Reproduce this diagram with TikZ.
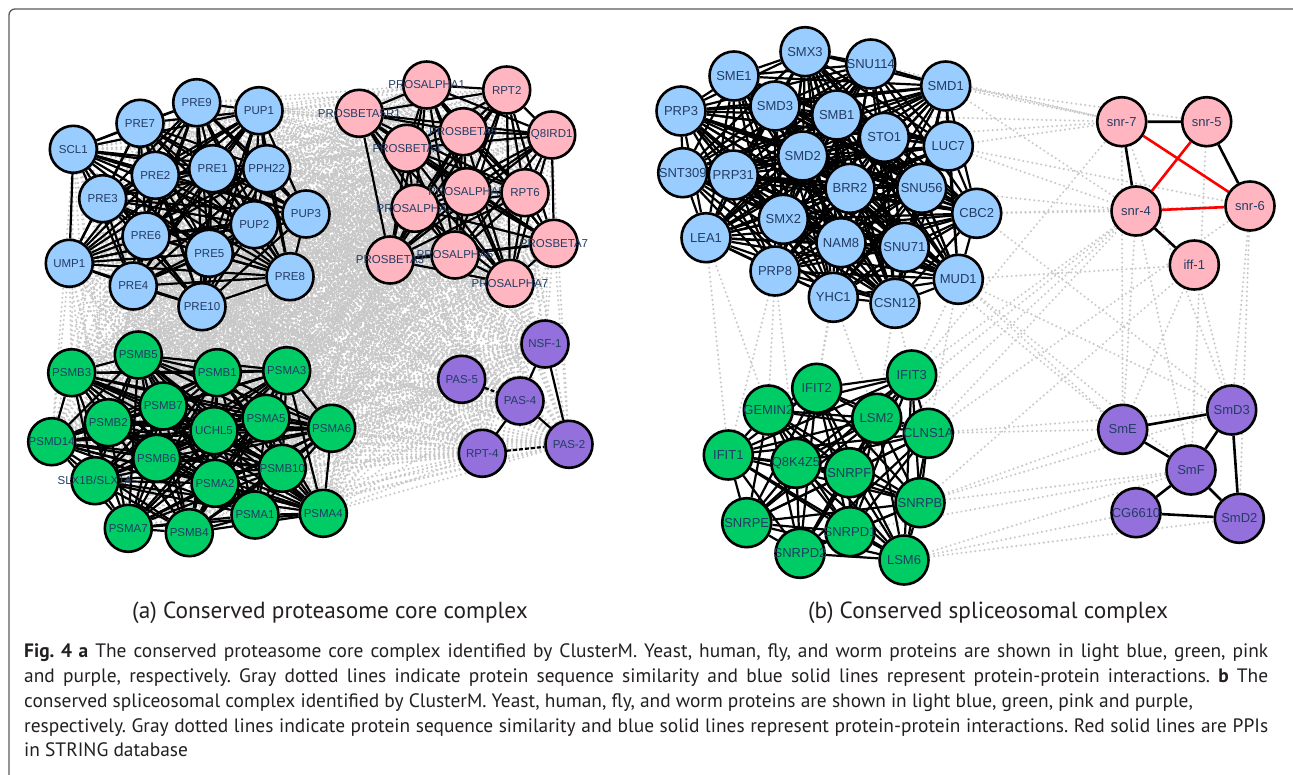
\documentclass[tikz,border=0pt]{standalone}
\usepackage{fontspec}
\setmainfont{Liberation Sans}
\newfontfamily\capfont{PT Sans}
\pgfdeclarelayer{bg}\pgfdeclarelayer{mid}\pgfsetlayers{bg,mid,main}
\definecolor{nblue}{RGB}{153,204,255}
\definecolor{npink}{RGB}{255,182,193}
\definecolor{ngreen}{RGB}{0,204,102}
\definecolor{npurple}{RGB}{147,112,219}
\definecolor{lbl}{RGB}{35,60,100}
\definecolor{simgray}{RGB}{200,200,200}
\definecolor{captxt}{RGB}{35,31,32}
\definecolor{framec}{RGB}{90,90,90}
\tikzset{
  pnL/.style={circle,draw=black,line width=2.6pt,minimum size=47pt,inner sep=0pt},
  pnR/.style={circle,draw=black,line width=2.6pt,minimum size=49pt,inner sep=0pt},
  lbL/.style={text=lbl,font=\fontsize{11.5}{12}\selectfont,inner sep=0pt},
  lbR/.style={text=lbl,font=\fontsize{13}{14}\selectfont,inner sep=0pt},
  bn/.style={fill=nblue}, pk/.style={fill=npink}, gn/.style={fill=ngreen}, pp/.style={fill=npurple},
  ppi/.style={draw=black,line width=2.2pt},
  strppi/.style={draw=red,line width=2.6pt},
  sim/.style={draw=simgray,line width=2.3pt,line cap=round,dash pattern=on 0pt off 4.6pt},
  captline/.style={text=captxt,font=\capfont\fontsize{19.4}{22}\selectfont\frenchspacing,anchor=base west,inner sep=0pt},
  ttl/.style={text=captxt,font=\capfont\fontsize{23.3}{26}\selectfont,anchor=base,inner sep=0pt}
}
\newcommand\pl[4]{\node[pnL,#1,label={[lbL]center:#4}] (#2) at (#3) {};}
\newcommand\pr[4]{\node[pnR,#1,label={[lbR]center:#4}] (#2) at (#3) {};}
\newcommand\mkclique[1]{\foreach \a [count=\i] in #1 {\foreach \b [count=\j] in #1 {\ifnum\j>\i\relax \draw[ppi] (\a)--(\b);\fi}}}
\newcommand\mkbip[2]{\foreach \a in #1 {\foreach \b in #2 {\draw[sim] (\a)--(\b);}}}
\def\Lblue{PRE9,PUP1,PRE7,SCL1,PRE2,PRE1,PPH22,PRE3,PUP3,PUP2,PRE6,PRE5,UMP1,PRE8,PRE4,PRE10}
\def\Lpink{PBfiveRone,PAone,RPTtwo,PBfour,PBfive,QIRD,PAtwo,PAfive,RPTsix,PBseven,PBthree,PAsix,PAseven}
\def\Lgreen{PSMB5,PSMB3,PSMB1,PSMA3,PSMB7,PSMB2,UCHL5,PSMA5,PSMA6,PSMD14,PSMB6,PSMB10,SLX,PSMA2,PSMA1,PSMA4,PSMA7,PSMB4}
\def\Lpurp{NSF,PASfive,PASfour,PAStwo,RPTfour}
\def\Rblue{SMX3,SNU114,SME1,SMD1,PRP3,SMD3,SMB1,STO1,LUC7,SMD2,SNT309,PRP31,BRR2,SNU56,CBC2,SMX2,LEA1,NAM8,SNU71,PRP8,MUD1,YHC1,CSN12}
\def\Rgreen{IFIT3,IFIT2,GEMIN2,LSM2,CLNS1A,IFIT1,Q8K4Z5,SNRPF,SNRPB,SNRPE,SNRPD1,SNRPD2,LSM6}
\begin{document}
\begin{tikzpicture}[x=1pt,y=-1pt]
\useasboundingbox (0,0) rectangle (1293,774);
\draw[framec,line width=1.3pt,rounded corners=6pt] (9,790) -- (9,9) -- (1310,9);
% ---------- left: yeast ----------
\pl{bn}{PRE9}{196.7,102.7}{PRE9}
\pl{bn}{PUP1}{259,110.7}{PUP1}
\pl{bn}{PRE7}{140,123.3}{PRE7}
\pl{bn}{SCL1}{73.3,149.3}{SCL1}
\pl{bn}{PRE2}{155.3,175.3}{PRE2}
\pl{bn}{PRE1}{212.7,168.7}{PRE1}
\pl{bn}{PPH22}{266.7,168.7}{PPH22}
\pl{bn}{PRE3}{102.7,198.7}{PRE3}
\pl{bn}{PUP3}{306,214}{PUP3}
\pl{bn}{PUP2}{254.3,224.7}{PUP2}
\pl{bn}{PRE6}{146,236}{PRE6}
\pl{bn}{PRE5}{209.3,253.3}{PRE5}
\pl{bn}{UMP1}{69.3,263.3}{UMP1}
\pl{bn}{PRE8}{290,276.7}{PRE8}
\pl{bn}{PRE4}{133.3,286}{PRE4}
\pl{bn}{PRE10}{202,306.7}{PRE10}
% fly
\pl{pk}{PBfiveRone}{359.3,113.3}{PROSBETA5R1}
\pl{pk}{PAone}{426.7,85}{PROSALPHA1}
\pl{pk}{RPTtwo}{506.7,90}{RPT2}
\pl{pk}{PBfour}{406.7,148.3}{PROSBETA4}
\pl{pk}{PBfive}{463.3,131.7}{PROSBETA5}
\pl{pk}{QIRD}{551.7,135}{Q8IRD1}
\pl{pk}{PAtwo}{415,208.3}{PROSALPHA2}
\pl{pk}{PAfive}{466.7,191.7}{PROSALPHA5}
\pl{pk}{RPTsix}{525,192.7}{RPT6}
\pl{pk}{PBseven}{554,243.3}{PROSBETA7}
\pl{pk}{PBthree}{390,260}{PROSBETA3}
\pl{pk}{PAsix}{455,255}{PROSALPHA6}
\pl{pk}{PAseven}{510,283.3}{PROSALPHA7}
% human
\pl{gn}{PSMB5}{138.3,355}{PSMB5}
\pl{gn}{PSMB3}{71.7,372.7}{PSMB3}
\pl{gn}{PSMB1}{217.3,372.7}{PSMB1}
\pl{gn}{PSMA3}{286.7,370.7}{PSMA3}
\pl{gn}{PSMB7}{163.3,406}{PSMB7}
\pl{gn}{PSMB2}{108.3,422.7}{PSMB2}
\pl{gn}{UCHL5}{214,430.7}{UCHL5}
\pl{gn}{PSMA5}{266,418.3}{PSMA5}
\pl{gn}{PSMA6}{331.7,428.3}{PSMA6}
\pl{gn}{PSMD14}{51.7,441.7}{PSMD14}
\pl{gn}{PSMB6}{156.7,458.3}{PSMB6}
\pl{gn}{PSMB10}{282.3,468.3}{PSMB10}
\pl{gn}{SLX}{95,480.7}{SLX1B/SLX1A}
\pl{gn}{PSMA2}{215,483.3}{PSMA2}
\pl{gn}{PSMA1}{255,515}{PSMA1}
\pl{gn}{PSMA4}{323.3,513.3}{PSMA4}
\pl{gn}{PSMA7}{128.3,528.3}{PSMA7}
\pl{gn}{PSMB4}{189.3,532.7}{PSMB4}
% worm
\pl{pp}{NSF}{545,344}{NSF-1}
\pl{pp}{PASfive}{461.7,379.3}{PAS-5}
\pl{pp}{PASfour}{520,401}{PAS-4}
\pl{pp}{PAStwo}{569,444.3}{PAS-2}
\pl{pp}{RPTfour}{482.3,453.3}{RPT-4}
% ---------- right ----------
\pr{bn}{SMX3}{805,51.7}{SMX3}
\pr{bn}{SNU114}{870.7,64}{SNU114}
\pr{bn}{SME1}{734,76}{SME1}
\pr{bn}{SMD1}{945.7,86}{SMD1}
\pr{bn}{PRP3}{681,111}{PRP3}
\pr{bn}{SMD3}{775,106}{SMD3}
\pr{bn}{SMB1}{836.7,115}{SMB1}
\pr{bn}{STO1}{884.3,137.3}{STO1}
\pr{bn}{LUC7}{948.3,146}{LUC7}
\pr{bn}{SMD2}{802.7,156}{SMD2}
\pr{bn}{SNT309}{682.7,172.7}{SNT309}
\pr{bn}{PRP31}{733.3,175}{PRP31}
\pr{bn}{BRR2}{850,188.3}{BRR2}
\pr{bn}{SNU56}{921.7,188.3}{SNU56}
\pr{bn}{CBC2}{976.7,213.3}{CBC2}
\pr{bn}{SMX2}{783.3,219.3}{SMX2}
\pr{bn}{LEA1}{706,237.7}{LEA1}
\pr{bn}{NAM8}{841,242.7}{NAM8}
\pr{bn}{SNU71}{904.3,247.3}{SNU71}
\pr{bn}{PRP8}{775,271}{PRP8}
\pr{bn}{MUD1}{958.3,279.3}{MUD1}
\pr{bn}{YHC1}{833.3,297.3}{YHC1}
\pr{bn}{CSN12}{895,303.3}{CSN12}
\pr{pk}{snrseven}{1121.7,121.7}{snr-7}
\pr{pk}{snrfive}{1206.7,121.7}{snr-5}
\pr{pk}{snrfour}{1136,211}{snr-4}
\pr{pk}{snrsix}{1250,206}{snr-6}
\pr{pk}{iff}{1194.3,265}{iff-1}
\pr{gn}{IFIT3}{911.7,375}{IFIT3}
\pr{gn}{IFIT2}{816.7,388.3}{IFIT2}
\pr{gn}{GEMIN2}{768.3,410}{GEMIN2}
\pr{gn}{LSM2}{876.7,418.3}{LSM2}
\pr{gn}{CLNS1A}{928.3,433.3}{CLNS1A}
\pr{gn}{IFIT1}{728.3,455}{IFIT1}
\pr{gn}{Q8K4Z5}{796,463.3}{Q8K4Z5}
\pr{gn}{SNRPF}{849.3,472.7}{SNRPF}
\pr{gn}{SNRPB}{920,502.7}{SNRPB}
\pr{gn}{SNRPE}{746.7,522.7}{SNRPE}
\pr{gn}{SNRPD1}{850,531.7}{SNRPD1}
\pr{gn}{SNRPD2}{800,553.3}{SNRPD2}
\pr{gn}{LSM6}{904,560}{LSM6}
\pr{pp}{SmE}{1122.7,429.3}{SmE}
\pr{pp}{SmD3}{1231.7,410}{SmD3}
\pr{pp}{SmF}{1191,470}{SmF}
\pr{pp}{CG6610}{1136,512.7}{CG6610}
\pr{pp}{SmD2}{1239.3,518.3}{SmD2}
% ---------- similarity edges ----------
\begin{pgfonlayer}{bg}
\mkbip{\Lblue}{\Lpink}
\mkbip{\Lblue}{\Lgreen}
\mkbip{\Lpink}{\Lgreen}
\mkbip{\Lpurp}{\Lblue}
\mkbip{\Lpurp}{\Lpink}
\mkbip{\Lpurp}{\Lgreen}
\foreach \a/\b in {SNU114/snrseven,SMD1/snrseven,SMD1/snrfive,SMD1/snrfour,SMX3/snrseven,LUC7/snrseven,LUC7/snrfour,LUC7/snrsix,CBC2/snrfour,CBC2/snrsix,MUD1/iff,SNU56/snrfour,STO1/snrseven,SMB1/snrseven,
  LEA1/GEMIN2,LEA1/IFIT1,PRP8/GEMIN2,PRP8/IFIT1,YHC1/IFIT2,YHC1/LSM2,CSN12/IFIT3,CSN12/LSM2,NAM8/IFIT2,PRP8/Q8K4Z5,MUD1/CLNS1A,MUD1/IFIT3,
  MUD1/SmE,MUD1/SmD3,CBC2/SmD3,MUD1/SmF,SNU71/SmE,
  CLNS1A/snrfour,IFIT3/snrfour,IFIT3/snrseven,LSM2/snrfour,SNRPB/iff,CLNS1A/snrsix,SNRPF/snrfour,
  SNRPB/SmE,SNRPB/SmF,CLNS1A/SmE,LSM6/CG6610,LSM6/SmD2,SNRPD1/SmF,SNRPB/SmD3,CLNS1A/SmD3,LSM6/SmF,
  snrfour/SmE,iff/SmD3,snrsix/SmD3,snrfive/SmF,iff/SmE,snrfour/SmF,snrseven/SmE,snrsix/SmD2,snrseven/SmD3}
  {\draw[sim] (\a)--(\b);}
\end{pgfonlayer}
% ---------- interaction edges ----------
\begin{pgfonlayer}{mid}
\mkclique{\Lblue}
\mkclique{\Lpink}
\mkclique{\Lgreen}
\draw[ppi] (NSF)--(PASfour) (NSF)--(PAStwo) (PASfour)--(PAStwo) (PASfour)--(RPTfour);
\draw[ppi,dash pattern=on 4pt off 2pt] (PASfive)--(PASfour) (RPTfour)--(PAStwo);
\mkclique{\Rblue}
\mkclique{\Rgreen}
\draw[ppi,line width=2.6pt] (snrseven)--(snrfive) (snrseven)--(snrfour) (snrfive)--(snrsix) (snrfour)--(iff);
\draw[strppi] (snrseven)--(snrsix) (snrfive)--(snrfour) (snrfour)--(snrsix);
\draw[ppi,line width=2.6pt] (SmE)--(SmD3) (SmE)--(SmF) (SmD3)--(SmF) (SmD3)--(SmD2) (SmF)--(SmD2) (SmF)--(CG6610) (CG6610)--(SmD2);
\end{pgfonlayer}
% ---------- titles and caption ----------
\node[ttl] (ta) at (330,618) {(a) Conserved proteasome core complex};
\node[ttl] (tb) at (988,618) {(b) Conserved spliceosomal complex};
\node[captline] (c1) at (24,657) {\makebox[1244pt][s]{\textbf{Fig.~4~a} The conserved proteasome core complex identified by ClusterM. Yeast, human, fly, and worm proteins are shown in light blue, green, pink}};
\node[captline] (c2) at (24,682) {\makebox[1244pt][s]{and purple, respectively. Gray dotted lines indicate protein sequence similarity and blue solid lines represent protein-protein interactions. \textbf{b} The}};
\node[captline] (c3) at (24,707) {conserved spliceosomal complex identified by ClusterM. Yeast, human, fly, and worm proteins are shown in light blue, green, pink and purple,};
\node[captline] (c4) at (24,732) {\makebox[1244pt][s]{respectively. Gray dotted lines indicate protein sequence similarity and blue solid lines represent protein-protein interactions. Red solid lines are PPIs}};
\node[captline] (c5) at (24,756) {in STRING database};
\end{tikzpicture}
\end{document}
